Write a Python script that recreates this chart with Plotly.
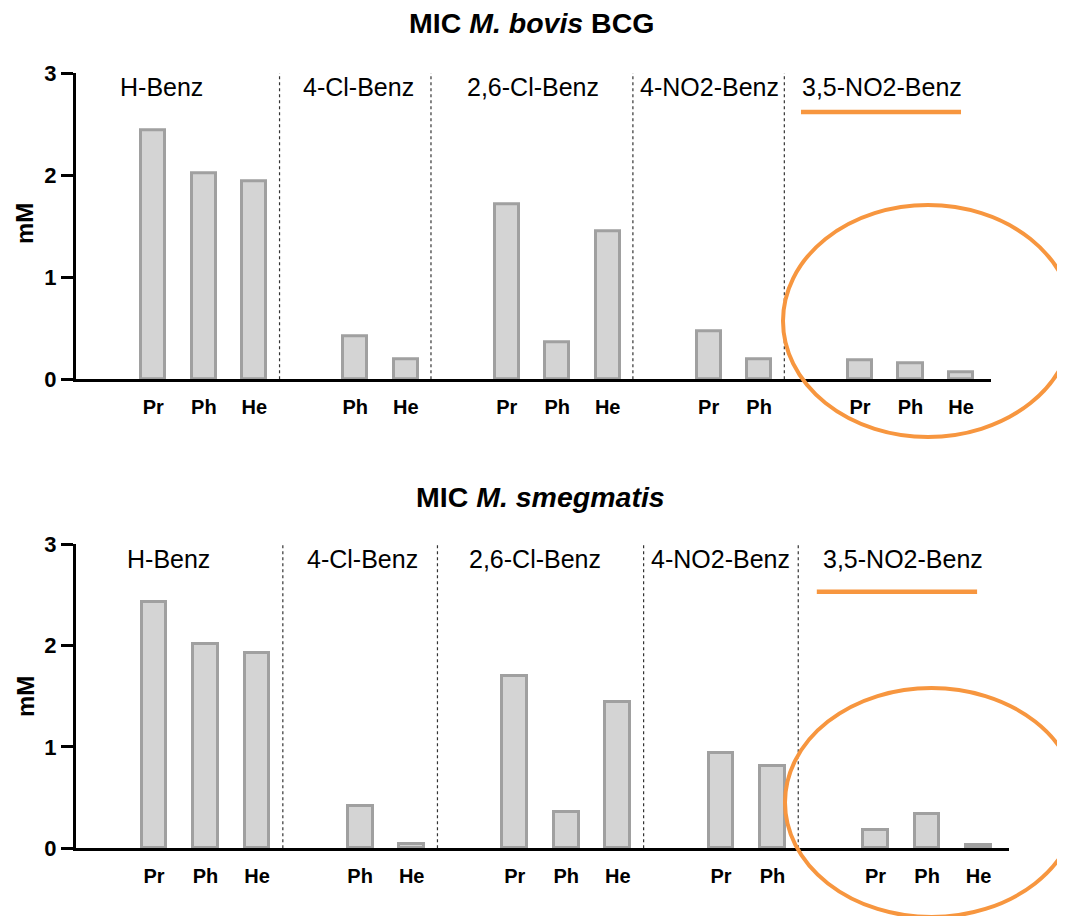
import plotly.graph_objects as go

# ---------------- data ----------------
groups = ["H-Benz", "4-Cl-Benz", "2,6-Cl-Benz", "4-NO2-Benz", "3,5-NO2-Benz"]
substituents = ["Pr", "Ph", "He"]

bar_group = ["H-Benz", "H-Benz", "H-Benz",
             "4-Cl-Benz", "4-Cl-Benz",
             "2,6-Cl-Benz", "2,6-Cl-Benz", "2,6-Cl-Benz",
             "4-NO2-Benz", "4-NO2-Benz",
             "3,5-NO2-Benz", "3,5-NO2-Benz", "3,5-NO2-Benz"]
bar_label = ["Pr", "Ph", "He",
             "Ph", "He",
             "Pr", "Ph", "He",
             "Pr", "Ph",
             "Pr", "Ph", "He"]

mic_bovis = [2.44, 2.02, 1.94,
             0.42, 0.20,
             1.72, 0.36, 1.45,
             0.47, 0.20,
             0.19, 0.16, 0.07]
mic_smegmatis = [2.43, 2.01, 1.93,
                 0.42, 0.04,
                 1.70, 0.36, 1.44,
                 0.94, 0.81,
                 0.18, 0.335, 0.03]

y_ticks = [0, 1, 2, 3]

# ---------------- layout constants ----------------
OFF = 8                      # page body margin
W, H = 1065, 916 - OFF
group_start = {"H-Benz": 0, "4-Cl-Benz": 3, "2,6-Cl-Benz": 7, "4-NO2-Benz": 11, "3,5-NO2-Benz": 14}
separators = [2.5, 5.5, 9.5, 12.5]
xpos = [group_start[g] + substituents.index(s) for g, s in zip(bar_group, bar_label)]

FONT = "Arial, Liberation Sans, Helvetica, sans-serif"
ORANGE = "#F7963F"
BAR_FILL = "#D4D4D4"
BAR_LINE = "#A0A0A0"


def px_x(p):
    return (p - OFF) / W


def px_y(p):
    return 1 - (p - OFF) / H


panels = [
    dict(vals=mic_bovis, title="MIC <i>M. bovis</i> BCG", title_xy=(531.5, 23),
         xdom=(76, 991), ydom=(379.3, 73.3), xrange=(-1.532, 16.594),
         glabel_x=[0.17, 4.07, 7.52, 11.01, 14.44], glabel_y=2.87,
         oline=(12.83, 16.0, 2.62), ell=(783, 1073, 205, 437), ytitle_y=224),
    dict(vals=mic_smegmatis, title="MIC <i>M. smegmatis</i>", title_xy=(540.5, 497),
         xdom=(76, 1009), ydom=(848.3, 544), xrange=(-1.513, 16.589),
         glabel_x=[0.29, 4.05, 7.39, 11.0, 14.53], glabel_y=2.85,
         oline=(12.86, 15.97, 2.53), ell=(785, 1078, 688, 917), ytitle_y=697),
]

fig = go.Figure()
annotations = []
shapes = []

for i, p in enumerate(panels):
    n = "" if i == 0 else str(i + 1)
    xa, ya = "x" + n, "y" + n
    fig.add_trace(go.Bar(
        x=xpos, y=p["vals"], xaxis=xa, yaxis=ya, width=0.48,
        marker=dict(color=BAR_FILL, line=dict(color=BAR_LINE, width=3)),
        showlegend=False, hoverinfo="y"))

    axis_common = dict(showgrid=False, zeroline=False, showline=True,
                       linecolor="black", linewidth=3, automargin=False)
    fig.layout["xaxis" + n] = dict(
        axis_common, domain=[px_x(p["xdom"][0]), px_x(p["xdom"][1])],
        range=list(p["xrange"]), tickmode="array", tickvals=xpos, ticktext=bar_label,
        ticks="", ticklabelstandoff=8,
        tickfont=dict(family=FONT, size=20, color="black", weight="bold"),
        anchor=ya)
    fig.layout["yaxis" + n] = dict(
        axis_common, domain=[px_y(p["ydom"][0]), px_y(p["ydom"][1])],
        range=[0, 3], tickmode="array", tickvals=y_ticks,
        ticks="outside", ticklen=12, tickwidth=3, tickcolor="black",
        tickfont=dict(family=FONT, size=22, color="black", weight="bold"),
        anchor=xa)

    # title
    annotations.append(dict(
        text="<b>" + p["title"] + "</b>", xref="paper", yref="paper",
        x=px_x(p["title_xy"][0]), y=px_y(p["title_xy"][1]),
        xanchor="center", yanchor="middle", showarrow=False,
        font=dict(family=FONT, size=28.5, color="black")))
    # y title
    annotations.append(dict(
        text="<b>mM</b>", xref="paper", yref="paper", x=px_x(25), y=px_y(p["ytitle_y"]),
        xanchor="center", yanchor="middle", textangle=-90, showarrow=False,
        font=dict(family=FONT, size=24, color="black")))
    # group labels
    for g, gx in zip(groups, p["glabel_x"]):
        annotations.append(dict(
            text=g, xref=xa, yref=ya, x=gx, y=p["glabel_y"],
            xanchor="center", yanchor="middle", showarrow=False,
            font=dict(family=FONT, size=25, color="black")))
    # dotted separators
    for s in separators:
        shapes.append(dict(type="line", xref=xa, yref=ya, x0=s, x1=s, y0=0, y1=3.03,
                           line=dict(color="#333333", width=1.2, dash="dot")))
    # orange underline
    ox0, ox1, oy = p["oline"]
    shapes.append(dict(type="line", xref=xa, yref=ya, x0=ox0, x1=ox1, y0=oy, y1=oy,
                       line=dict(color=ORANGE, width=4.5)))
    # orange ellipse
    ex0, ex1, ey0, ey1 = p["ell"]
    shapes.append(dict(type="circle", xref="paper", yref="paper",
                       x0=px_x(ex0), x1=px_x(ex1), y0=px_y(ey1), y1=px_y(ey0),
                       line=dict(color=ORANGE, width=4)))

fig.update_layout(
    width=W, height=H, autosize=False,
    margin=dict(l=0, r=0, t=0, b=0, pad=0),
    paper_bgcolor="white", plot_bgcolor="white",
    bargap=0, annotations=annotations, shapes=shapes,
    font=dict(family=FONT, color="black"))

fig.write_html("out.html")
